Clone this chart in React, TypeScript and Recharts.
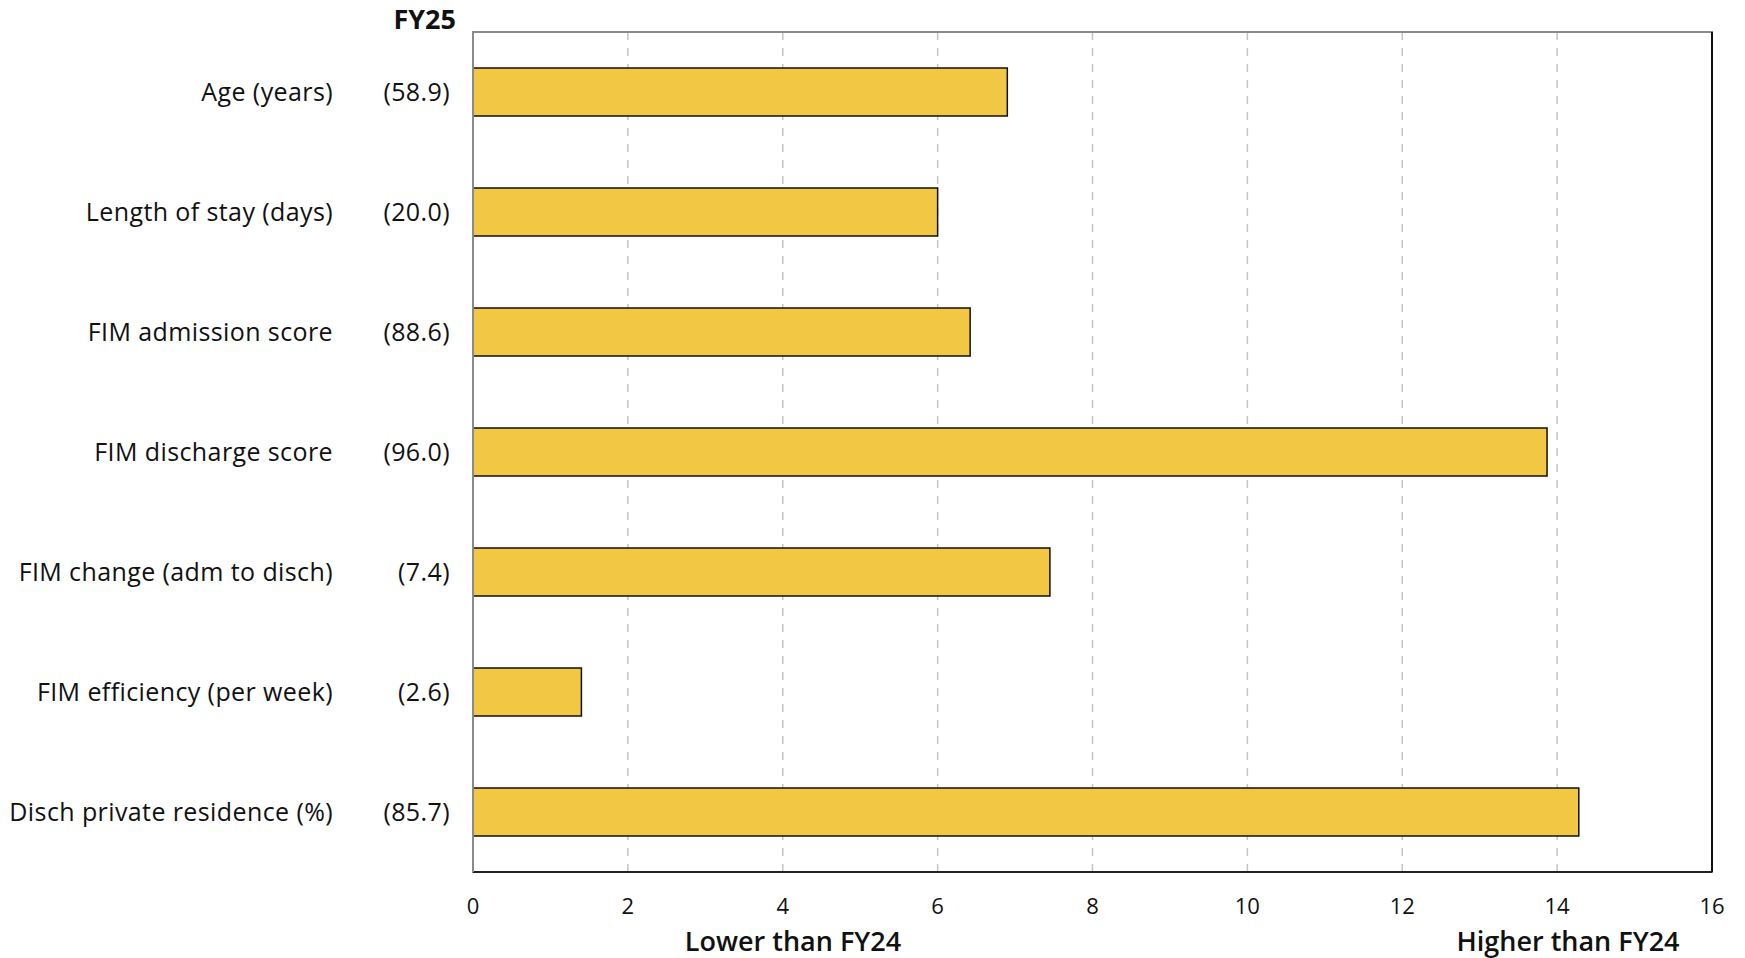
import { Bar, BarChart, CartesianGrid, ReferenceArea, ReferenceLine, XAxis, YAxis } from "recharts";

const categories = [
  "Age (years)",
  "Length of stay (days)",
  "FIM admission score",
  "FIM discharge score",
  "FIM change (adm to disch)",
  "FIM efficiency (per week)",
  "Disch private residence (%)",
];
const fy25Labels = ["(58.9)", "(20.0)", "(88.6)", "(96.0)", "(7.4)", "(2.6)", "(85.7)"];
const scores = [6.9, 6.0, 6.42, 13.87, 7.45, 1.4, 14.28];
const xTicks = [0, 2, 4, 6, 8, 10, 12, 14, 16];

const data = categories.map((name, i) => ({ name, fy25: fy25Labels[i], score: scores[i] }));

const FONT = "'Open Sans', Lato, sans-serif";

// two columns on the left: metric name and FY25 value
const CategoryTick = (props: any) => {
  const { y, payload } = props;
  const row = data.find((d) => d.name === payload.value);
  return (
    <g>
      <text x={333} y={y} dy={9} textAnchor="end" fontSize={25} letterSpacing={0.4} fill="#111" fontFamily={FONT}>
        {payload.value}
      </text>
      <text x={450} y={y} dy={9} textAnchor="end" fontSize={25} letterSpacing={0.4} fill="#111" fontFamily={FONT}>
        {row ? row.fy25 : ""}
      </text>
    </g>
  );
};

export default function App() {
  return (
    <div style={{ position: "absolute", left: 0, top: 0, width: 1745, height: 958, background: "#fff", fontFamily: FONT }}>
      <BarChart
        width={1745}
        height={958}
        data={data}
        layout="vertical"
        barCategoryGap="30%"
        margin={{ top: 32, right: 33, left: 0, bottom: 0 }}
      >
        <CartesianGrid horizontal={false} vertical={true} stroke="#c4c4c4" strokeDasharray="8 8" strokeWidth={1.5} />
        {/* plot frame: grey top/left, black right */}
        <ReferenceArea x1={0} x2={16} fill="none" stroke="#8a8a8a" strokeWidth={2} ifOverflow="visible" />
        <ReferenceLine x={16} stroke="#111" strokeWidth={2} />
        <XAxis
          type="number"
          domain={[0, 16]}
          ticks={xTicks}
          height={86}
          axisLine={{ stroke: "#222", strokeWidth: 2 }}
          tickLine={false}
          tickMargin={20}
          tick={{ fontSize: 22, fill: "#111", fontFamily: FONT }}
        />
        <YAxis
          type="category"
          dataKey="name"
          width={473}
          axisLine={{ stroke: "#8a8a8a", strokeWidth: 2 }}
          tickLine={false}
          tick={<CategoryTick />}
          interval={0}
        />
        <Bar dataKey="score" fill="#F2C744" stroke="#111" strokeWidth={1.5} isAnimationActive={false} />
      </BarChart>
      <div style={{ position: "absolute", left: 356, top: 0, width: 100, textAlign: "right", fontSize: 27, fontWeight: 700, color: "#111" }}>
        FY25
      </div>
      <div style={{ position: "absolute", left: 593, top: 922, width: 400, textAlign: "center", fontSize: 27, fontWeight: 600, color: "#111" }}>
        Lower than FY24
      </div>
      <div style={{ position: "absolute", left: 1368, top: 922, width: 400, textAlign: "center", fontSize: 27, fontWeight: 600, color: "#111" }}>
        Higher than FY24
      </div>
    </div>
  );
}
